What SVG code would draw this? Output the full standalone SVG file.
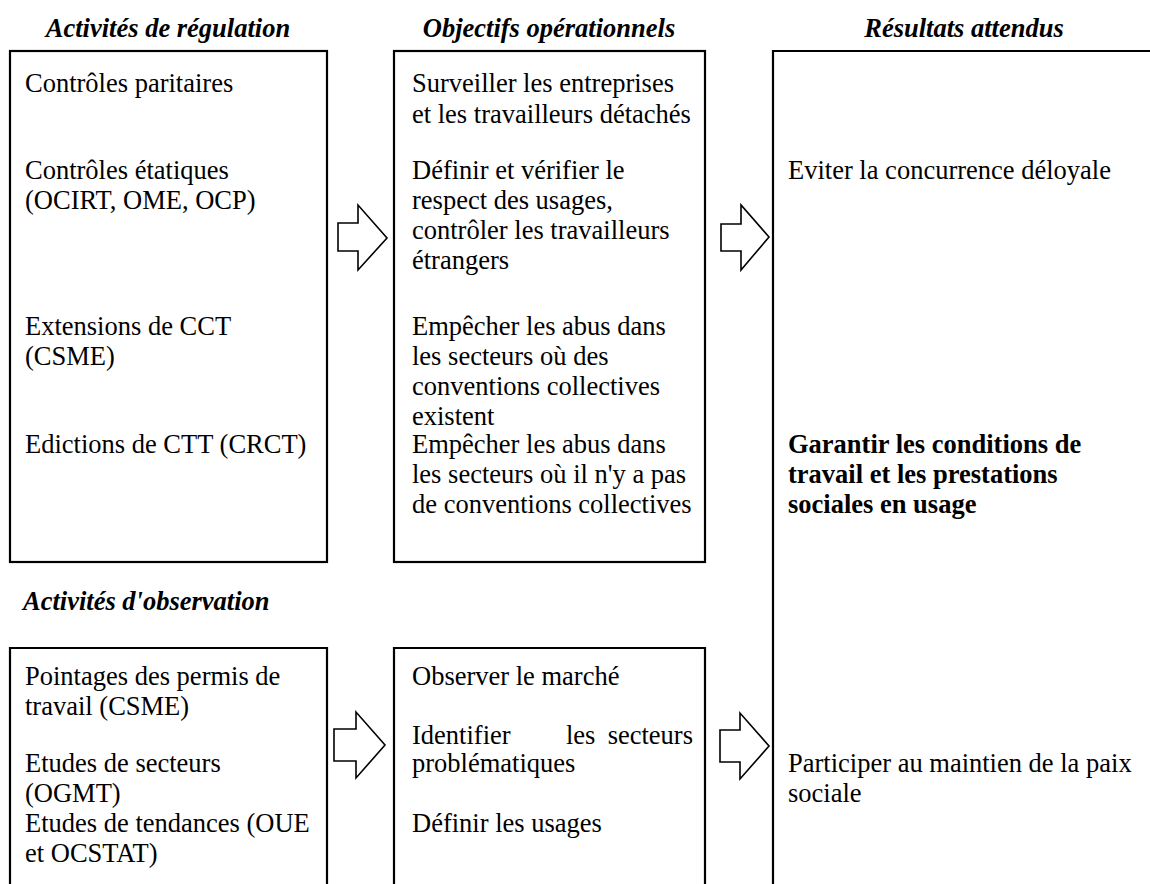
<svg xmlns="http://www.w3.org/2000/svg" width="1150" height="884" viewBox="0 0 1150 884">
<style>
text{font-family:"Liberation Serif","Times New Roman",serif;font-size:26.5px;fill:#000}
.h{font-weight:bold;font-style:italic}
.b{font-weight:bold}
.box{fill:none;stroke:#000;stroke-width:2.2}
.arr{fill:#fff;stroke:#000;stroke-width:1.6;stroke-linejoin:miter}
</style>
<rect width="1150" height="884" fill="#fff"/>
<g id="titles">
<text class="h" x="168" y="37" text-anchor="middle">Activités de régulation</text>
<text class="h" x="549" y="37" text-anchor="middle">Objectifs opérationnels</text>
<text class="h" x="964" y="37" text-anchor="middle">Résultats attendus</text>
<text class="h" x="23" y="610">Activités d'observation</text>
</g>
<g id="regulation">
<rect class="box" x="10" y="51" width="317" height="511"/>
<text x="25" y="92">Contrôles paritaires</text>
<text x="25" y="179">Contrôles étatiques</text>
<text x="25" y="209">(OCIRT, OME, OCP)</text>
<text x="25" y="335">Extensions de CCT</text>
<text x="25" y="365">(CSME)</text>
<text x="25" y="453">Edictions de CTT (CRCT)</text>
</g>
<g id="objectifs">
<rect class="box" x="394" y="51" width="311" height="511"/>
<text x="412" y="92">Surveiller les entreprises</text>
<text x="412" y="123">et les travailleurs détachés</text>
<text x="412" y="179">Définir et vérifier le</text>
<text x="412" y="209">respect des usages,</text>
<text x="412" y="239">contrôler les travailleurs</text>
<text x="412" y="269">étrangers</text>
<text x="412" y="335">Empêcher les abus dans</text>
<text x="412" y="365">les secteurs où des</text>
<text x="412" y="395">conventions collectives</text>
<text x="412" y="425">existent</text>
<text x="412" y="453">Empêcher les abus dans</text>
<text x="412" y="483">les secteurs où il n'y a pas</text>
<text x="412" y="513">de conventions collectives</text>
</g>
<g id="resultats">
<path class="box" d="M1152,51 H773 V890"/>
<text x="788" y="179">Eviter la concurrence déloyale</text>
<text class="b" x="788" y="453">Garantir les conditions de</text>
<text class="b" x="788" y="483">travail et les prestations</text>
<text class="b" x="788" y="513">sociales en usage</text>
<text x="788" y="772">Participer au maintien de la paix</text>
<text x="788" y="802">sociale</text>
</g>
<g id="observation">
<path class="box" d="M10,890 V648 H327 V890"/>
<text x="25" y="685">Pointages des permis de</text>
<text x="25" y="715">travail (CSME)</text>
<text x="25" y="772">Etudes de secteurs</text>
<text x="25" y="802">(OGMT)</text>
<text x="25" y="832">Etudes de tendances (OUE</text>
<text x="25" y="862">et OCSTAT)</text>
</g>
<g id="objectifs-observation">
<path class="box" d="M394,890 V648 H705 V890"/>
<text x="412" y="685">Observer le marché</text>
<text x="412" y="744">Identifier</text>
<text x="566" y="744">les</text>
<text x="693" y="744" text-anchor="end">secteurs</text>
<text x="412" y="772">problématiques</text>
<text x="412" y="832">Définir les usages</text>
</g>
<g id="connectors">
<polygon class="arr" points="338,223 358,223 358,205 387,238 358,270 358,251 338,251"/>
<polygon class="arr" points="721,224 741,224 741,205 769,237 741,270 741,251 721,251"/>
<polygon class="arr" points="334,729 356,729 356,712 385,745 356,778 356,761 334,761"/>
<polygon class="arr" points="720,730 740,730 740,713 769,746 740,779 740,762 720,762"/>
</g>
</svg>
